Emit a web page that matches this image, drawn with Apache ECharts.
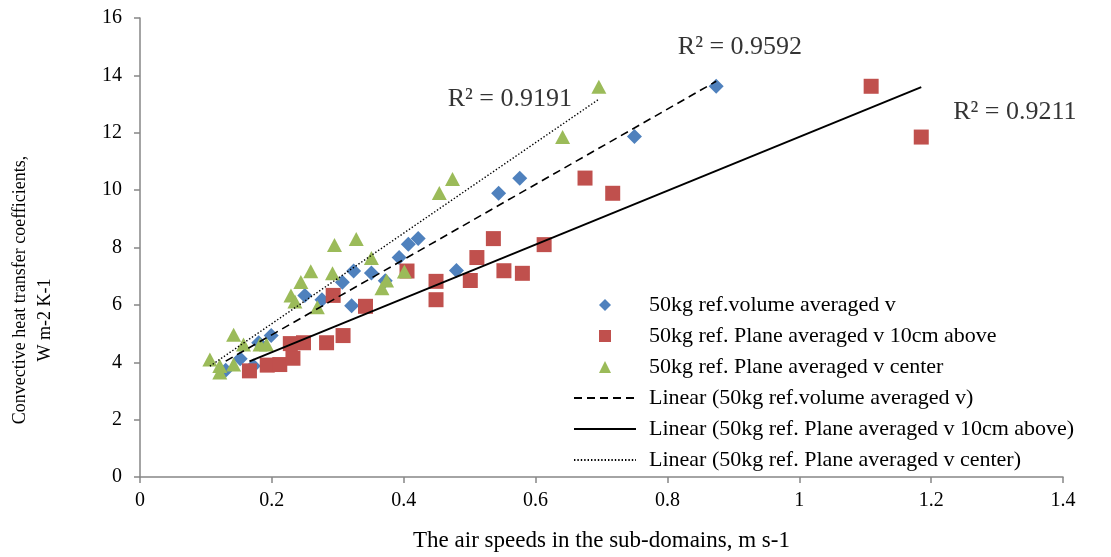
<!DOCTYPE html>
<html>
<head>
<meta charset="utf-8">
<script src="https://cdn.jsdelivr.net/npm/echarts@6/dist/echarts.min.js"></script>
<style>
  html, body { margin: 0; padding: 0; background: #fff; }
  #chart { width: 1111px; height: 557px; }
</style>
</head>
<body>
<div id="chart"></div>
<script>
// [air speed m/s, heat transfer coefficient W m-2 K-1]
const volumeAvg = [
  [0.130, 3.72], [0.152, 4.12], [0.172, 3.87], [0.180, 4.68], [0.199, 4.93],
  [0.250, 6.33], [0.276, 6.18], [0.307, 6.79], [0.321, 5.97], [0.324, 7.18],
  [0.351, 7.11], [0.372, 6.84], [0.393, 7.65], [0.407, 8.11], [0.422, 8.31],
  [0.480, 7.20], [0.544, 9.89], [0.576, 10.41], [0.750, 11.87], [0.874, 13.62]
]
const plane10cm = [
  [0.166, 3.70], [0.193, 3.90], [0.212, 3.92], [0.232, 4.14], [0.228, 4.65],
  [0.248, 4.68], [0.283, 4.68], [0.308, 4.93], [0.293, 6.33], [0.342, 5.95],
  [0.405, 7.18], [0.449, 6.82], [0.449, 6.18], [0.501, 6.85], [0.511, 7.65],
  [0.536, 8.31], [0.552, 7.19], [0.580, 7.10], [0.613, 8.10], [0.675, 10.42],
  [0.717, 9.89], [1.109, 13.62], [1.185, 11.85]
]
const planeCenter = [
  [0.106, 4.10], [0.121, 3.87], [0.121, 3.64], [0.142, 4.96], [0.142, 3.92],
  [0.157, 4.62], [0.182, 4.62], [0.192, 4.62], [0.229, 6.33], [0.235, 6.12],
  [0.244, 6.80], [0.259, 7.17], [0.269, 5.92], [0.292, 7.10], [0.295, 8.09],
  [0.328, 8.30], [0.351, 7.63], [0.367, 6.58], [0.374, 6.85], [0.401, 7.16],
  [0.454, 9.90], [0.474, 10.39], [0.641, 11.85], [0.696, 13.60]
]

const seriesNames = [
  '50kg ref.volume averaged v',
  '50kg ref. Plane averaged v 10cm above',
  '50kg ref. Plane averaged v center'
]
const r2Labels = ['R² = 0.9592', 'R² = 0.9211', 'R² = 0.9191']
const r2Anchors = [[0.91, 15.0], [1.327, 12.71], [0.561, 13.16]]

const font = 'Liberation Serif, Times New Roman, serif'

function linearFit(pts) {
  const n = pts.length
  let sx = 0, sy = 0, sxx = 0, sxy = 0
  pts.forEach(([x, y]) => { sx += x; sy += y; sxx += x * x; sxy += x * y })
  const b = (n * sxy - sx * sy) / (n * sxx - sx * sx)
  const a = (sy - b * sx) / n
  const xs = pts.map(p => p[0])
  const x0 = Math.min(...xs)
  const x1 = Math.max(...xs)
  return [[x0, a + b * x0], [x1, a + b * x1]]
}

const chart = echarts.init(document.getElementById('chart'))

const axisGray = '#868686'
const hidden = 'rgba(0,0,0,0)'

// legend marker shapes, kept square inside the wide legend slot
const diamondIcon = 'path://M5,0L10,5L5,10L0,5Z'
const squareIcon = 'path://M0,0L10,0L10,10L0,10Z'
const triangleIcon = 'path://M5,0L10,10L0,10Z'

const option = {
  animation: false,
  backgroundColor: '#fff',
  grid: { left: 140, right: 48, top: 18, bottom: 77 },
  graphic: [
    {
      type: 'text', x: 20, y: 290, rotation: Math.PI / 2,
      style: { text: 'Convective heat transfer coefficients,', font: '18px ' + font, fill: '#000', align: 'center', verticalAlign: 'middle' }
    },
    {
      type: 'text', x: 45, y: 320, rotation: Math.PI / 2,
      style: { text: 'W m-2 K-1', font: '18px ' + font, fill: '#000', align: 'center', verticalAlign: 'middle' }
    }
  ],
  xAxis: {
    type: 'value', min: 0, max: 1.4, interval: 0.2,
    name: 'The air speeds in the sub-domains, m s-1',
    nameLocation: 'middle', nameGap: 52,
    nameTextStyle: { fontFamily: font, fontSize: 23, color: '#000' },
    axisLine: { lineStyle: { color: axisGray, width: 1.5 } },
    axisTick: { show: true, length: 6, lineStyle: { color: axisGray, width: 1.5 } },
    axisLabel: { fontFamily: font, fontSize: 20, color: '#000', margin: 14 },
    splitLine: { show: false }
  },
  yAxis: {
    type: 'value', min: 0, max: 16, interval: 2,
    axisLine: { show: true, lineStyle: { color: axisGray, width: 1.5 } },
    axisTick: { show: true, length: 6, lineStyle: { color: axisGray, width: 1.5 } },
    axisLabel: { fontFamily: font, fontSize: 20, color: '#000', margin: 18 },
    splitLine: { show: false }
  },
  legend: {
    orient: 'vertical', left: 568, top: 289,
    itemWidth: 62, itemHeight: 12, itemGap: 9,
    symbolKeepAspect: true,
    textStyle: { fontFamily: font, fontSize: 22, color: '#000', padding: [0, 0, 0, 8] },
    data: [
      { name: seriesNames[0], icon: diamondIcon },
      { name: seriesNames[1], icon: squareIcon },
      { name: seriesNames[2], icon: triangleIcon },
      'Linear (' + seriesNames[0] + ')',
      'Linear (' + seriesNames[1] + ')',
      'Linear (' + seriesNames[2] + ')'
    ]
  },
  series: [
    {
      name: seriesNames[0], type: 'scatter', data: volumeAvg,
      symbol: 'diamond', symbolSize: 15,
      itemStyle: { color: '#4F81BD', opacity: 1 }
    },
    {
      name: seriesNames[1], type: 'scatter', data: plane10cm,
      symbol: 'rect', symbolSize: 15,
      itemStyle: { color: '#C0504D', opacity: 1 }
    },
    {
      name: seriesNames[2], type: 'scatter', data: planeCenter,
      symbol: 'triangle', symbolSize: [15, 14],
      itemStyle: { color: '#9BBB59', opacity: 1 }
    },
    {
      name: 'Linear (' + seriesNames[0] + ')', type: 'line', data: linearFit(volumeAvg),
      symbol: 'none', z: 5,
      itemStyle: { color: hidden, borderWidth: 0 },
      lineStyle: { color: '#000', width: 1.6, type: [8, 5] }
    },
    {
      name: 'Linear (' + seriesNames[1] + ')', type: 'line', data: linearFit(plane10cm),
      symbol: 'none', z: 5,
      itemStyle: { color: hidden, borderWidth: 0 },
      lineStyle: { color: '#000', width: 2 }
    },
    {
      name: 'Linear (' + seriesNames[2] + ')', type: 'line', data: linearFit(planeCenter),
      symbol: 'none', z: 5,
      itemStyle: { color: hidden, borderWidth: 0 },
      lineStyle: { color: '#000', width: 1.4, type: [1.4, 2] }
    },
    {
      name: 'r2', type: 'scatter', silent: true, symbolSize: 1,
      itemStyle: { color: hidden },
      data: r2Anchors.map((p, i) => ({ value: p, name: r2Labels[i] })),
      label: {
        show: true, position: 'inside', formatter: '{b}',
        fontFamily: font, fontSize: 26, color: '#000'
      }
    }
  ]
}

chart.setOption(option)
</script>
</body>
</html>
